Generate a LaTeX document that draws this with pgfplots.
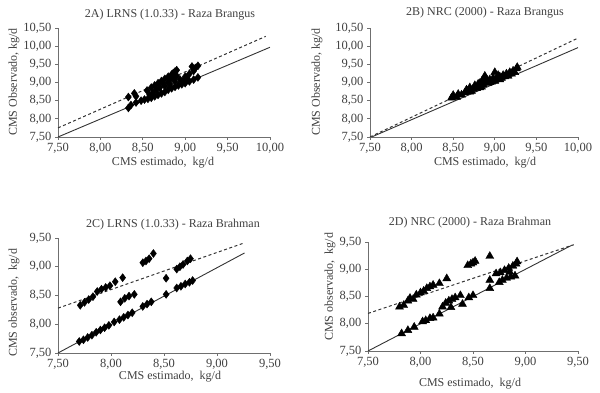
\documentclass[border=0pt]{standalone}
\usepackage{pgfplots}
\pgfplotsset{compat=1.18}
\usepackage{fontspec}
\setmainfont{Liberation Serif}
\definecolor{txt}{HTML}{404040}
\definecolor{axg}{HTML}{6F6F6F}
\newcommand{\fs}{\fontsize{12}{14}\selectfont}
\newcommand{\ft}{\fontsize{12.5}{14}\selectfont}
\pgfplotsset{
  panel/.style={
    scale only axis,
    anchor=south west,
    axis x line*=bottom, axis y line*=left,
    tick align=outside, major tick length=3pt,
    axis line style={draw=axg, line width=0.8pt},
    major tick style={draw=axg, line width=0.8pt},
    ticklabel style={font=\ft, text=txt},
    /pgf/number format/assume math mode=true,
    xticklabel style={/pgf/number format/.cd, fixed, fixed zerofill, precision=2, use comma},
    yticklabel style={/pgf/number format/.cd, fixed, fixed zerofill, precision=2, use comma},
    clip=false,
  },
  dia/.style={only marks, mark=diamond*, mark size=4pt, mark options={fill=black, draw=black}},
  tri/.style={only marks, mark=triangle*, mark size=4.6pt, mark options={fill=black, draw=black}},
  solidl/.style={no marks, draw=black!80, line width=0.9pt},
  dashl/.style={no marks, draw=black!80, line width=1pt, dash pattern=on 3pt off 2.5pt},
}
\begin{document}
\begin{tikzpicture}[x=1pt,y=1pt]
\path[use as bounding box] (0,0) rectangle (600,393);
% Panel A
\begin{axis}[panel, at={(58pt,256pt)}, width=212pt, height=109pt,
  xmin=7.5, xmax=10, ymin=7.5, ymax=10.5,
  xtick={7.5,8,8.5,9,9.5,10}, ytick={7.5,8,8.5,9,9.5,10,10.5}]
\addplot[solidl] coordinates {(7.5,7.5) (10,9.97)};
\addplot[dashl] coordinates {(7.5,7.75) (9.95,10.27)};
\addplot[dia] coordinates {
(8.33,8.30) (8.36,8.38) (8.42,8.45) (8.48,8.50) (8.52,8.53) (8.56,8.55) (8.60,8.58)
(8.64,8.62) (8.68,8.66) (8.72,8.70) (8.76,8.74) (8.80,8.80) (8.84,8.84) (8.88,8.88)
(8.92,8.92) (8.96,8.95) (9.00,8.98) (9.05,9.03) (9.10,9.08) (9.15,9.14)
(8.33,8.60) (8.40,8.70) (8.42,8.62) (8.55,8.78) (8.60,8.86) (8.64,8.92) (8.68,8.98)
(8.72,9.04) (8.76,9.10) (8.80,9.16) (8.84,9.22) (8.88,9.30) (8.90,9.34) (8.86,9.26)
(8.70,8.86) (8.76,8.90) (8.82,8.96) (8.88,9.02) (8.94,9.08) (9.00,9.16) (9.05,9.24)
(9.10,9.32) (9.12,9.40) (9.15,9.46) (9.08,9.44)
(8.62,8.72) (8.74,8.96) (8.82,9.08) (8.90,9.18) (8.98,9.06) (9.02,9.12) (8.58,8.66)
(8.66,8.80) (8.80,9.00) (8.86,9.12)
};
\end{axis}
% Panel B
\begin{axis}[panel, at={(370pt,256pt)}, width=208pt, height=109pt,
  xmin=7.5, xmax=10, ymin=7.5, ymax=10.5,
  xtick={7.5,8,8.5,9,9.5,10}, ytick={7.5,8,8.5,9,9.5,10,10.5}]
\addplot[solidl] coordinates {(7.52,7.5) (10,9.96)};
\addplot[dashl] coordinates {(7.5,7.5) (9.98,10.20)};
\addplot[tri] coordinates {
(8.48,8.58) (8.50,8.65) (8.54,8.60) (8.60,8.66) (8.64,8.72) (8.68,8.78) (8.70,8.86)
(8.74,8.82) (8.76,8.92) (8.80,8.90) (8.82,8.98) (8.85,9.06) (8.88,9.18) (8.90,9.02)
(8.94,9.08) (8.98,9.12) (9.00,9.28) (9.02,9.10) (9.06,9.16) (9.10,9.20) (9.14,9.24)
(9.18,9.28) (9.22,9.32) (9.26,9.38) (9.27,9.42) (8.78,8.84) (8.86,8.94) (8.92,8.98)
(9.00,9.04) (9.08,9.12) (9.16,9.18) (9.24,9.28) (8.72,8.76) (8.84,8.88)
(8.56,8.68) (8.66,8.80) (8.80,8.96) (8.90,9.10) (8.96,9.02) (9.04,9.20) (9.12,9.16)
(9.20,9.24) (8.70,8.74) (8.82,8.86) (8.94,9.00) (9.06,9.08)
};
\end{axis}
% Panel C
\begin{axis}[panel, at={(58pt,40pt)}, width=212pt, height=115pt,
  xmin=7.5, xmax=9.5, ymin=7.5, ymax=9.5,
  xtick={7.5,8,8.5,9,9.5}, ytick={7.5,8,8.5,9,9.5}]
\addplot[solidl] coordinates {(7.5,7.5) (9.26,9.24)};
\addplot[dashl] coordinates {(7.5,8.28) (9.25,9.41)};
\addplot[dia] coordinates {
(7.70,7.70) (7.74,7.73) (7.78,7.77) (7.82,7.81) (7.86,7.86) (7.90,7.90) (7.94,7.94)
(7.98,7.98) (8.03,8.04) (8.08,8.08) (8.12,8.12) (8.16,8.16) (8.20,8.20) (8.30,8.31)
(8.34,8.35) (8.38,8.39) (8.52,8.52) (8.62,8.63) (8.66,8.66) (8.70,8.70) (8.74,8.73)
(8.77,8.76)
(7.71,8.33) (7.75,8.38) (7.79,8.43) (7.83,8.48) (7.87,8.57) (7.91,8.61) (7.95,8.64)
(7.99,8.67) (8.04,8.74) (8.11,8.81)
(8.09,8.39) (8.13,8.45) (8.17,8.49) (8.22,8.52)
(8.30,9.07) (8.33,9.10) (8.36,9.14) (8.40,9.23)
(8.52,8.80)
(8.62,8.96) (8.65,9.00) (8.68,9.04) (8.72,9.10) (8.75,9.14)
};
\end{axis}
% Panel D
\begin{axis}[panel, at={(368pt,42pt)}, width=210pt, height=109pt,
  xmin=7.5, xmax=9.5, ymin=7.5, ymax=9.5,
  xtick={7.5,8,8.5,9,9.5}, ytick={7.5,8,8.5,9,9.5}]
\addplot[solidl] coordinates {(7.5,7.5) (9.44,9.44)};
\addplot[dashl] coordinates {(7.5,8.19) (9.46,9.45)};
\addplot[tri] coordinates {
(7.80,8.31) (7.84,8.34) (7.88,8.42) (7.90,8.47) (7.93,8.45) (7.96,8.53) (8.00,8.57)
(8.03,8.60) (8.06,8.65) (8.09,8.68) (8.12,8.71) (8.18,8.74) (8.25,8.83)
(8.45,9.07) (8.48,9.10) (8.50,9.12) (8.52,9.15) (8.66,9.24)
(7.82,7.82) (7.88,7.88) (7.94,7.94) (8.02,8.04) (8.05,8.06) (8.09,8.10) (8.12,8.11)
(8.18,8.18) (8.21,8.31) (8.24,8.38) (8.27,8.42) (8.30,8.45) (8.33,8.48) (8.29,8.30)
(8.38,8.52) (8.40,8.36) (8.46,8.48) (8.50,8.52) (8.66,8.65) (8.66,8.80)
(8.75,8.76) (8.78,8.80) (8.82,8.84) (8.86,8.86) (8.90,8.88) (8.76,8.94) (8.80,8.98)
(8.84,9.02) (8.88,9.06) (8.91,9.10) (8.92,9.14) (8.85,8.95) (8.72,8.92)
};
\end{axis}
% titles and labels
\begin{scope}[every node/.style={font=\fs, text=txt, inner sep=0pt}]
\node at (170,378) {2A) LRNS (1.0.33) - Raza Brangus};
\node at (485,380) {2B) NRC (2000) - Raza Brangus};
\node at (173,168) {2C) LRNS (1.0.33) - Raza Brahman};
\node at (470,170) {2D) NRC (2000) - Raza Brahman};
\node at (163,230) {CMS estimado,\ \ kg/d};
\node at (485,230) {CMS estimado,\ \ kg/d};
\node at (170,16) {CMS estimado,\ \ kg/d};
\node at (470,9) {CMS estimado,\ \ kg/d};
\node[rotate=90] at (14,311) {CMS Observado, kg/d};
\node[rotate=90] at (317,311) {CMS Observado, kg/d};
\node[rotate=90] at (14,90) {CMS observado,\ \ kg/d};
\node[rotate=90] at (330,106) {CMS observado,\ \ kg/d};
\end{scope}
\end{tikzpicture}
\end{document}
